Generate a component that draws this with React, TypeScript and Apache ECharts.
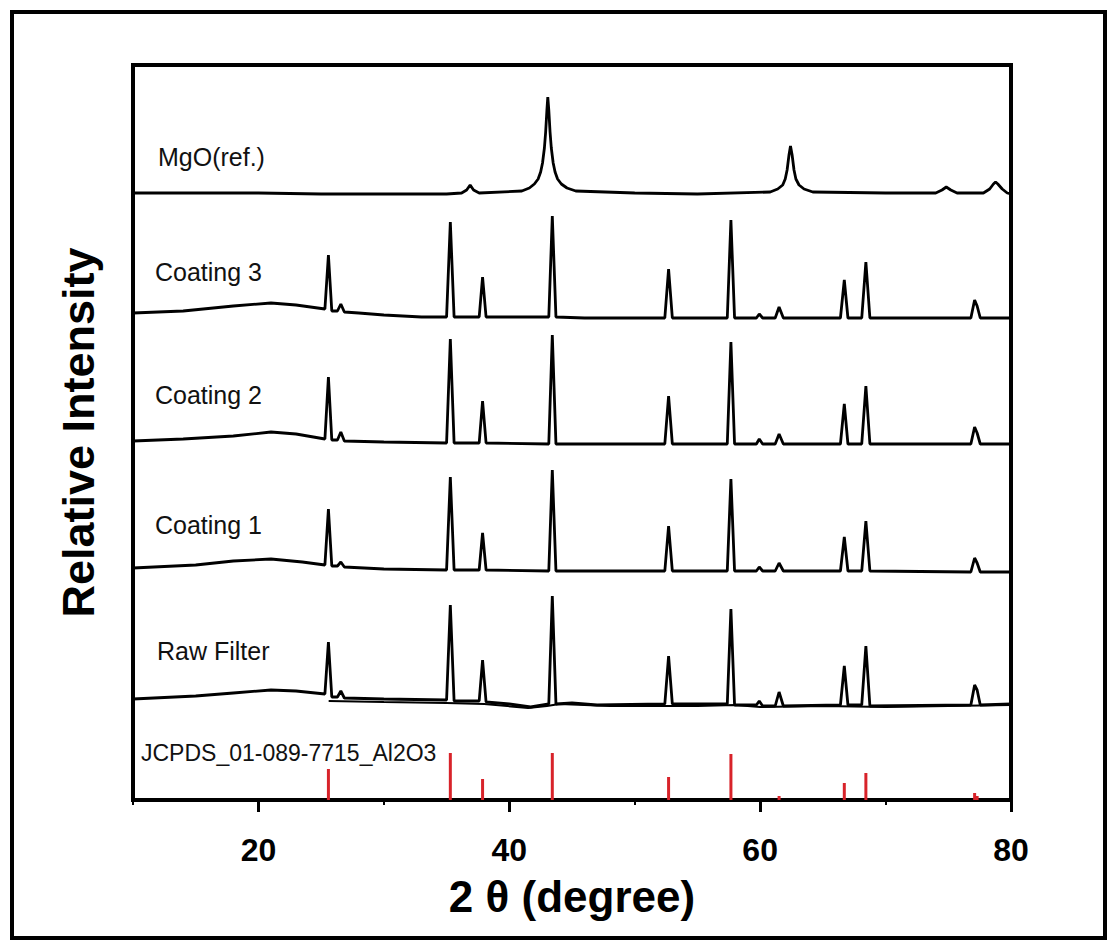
import React, { useEffect, useRef } from "react";
import * as echarts from "echarts";

// ---- Data (2θ in degrees, relative intensity in arbitrary stacked units) ----
const xMin = 10;
const xMax = 80;
const majorTicks = [20, 40, 60, 80];
const minorTicks = [10, 30, 50, 70];

const mgoRef: [number, number][] = [
  [10, 607], [15, 607], [20, 607], [25, 606], [30, 606], [35, 606], [36.2, 607], [36.6, 610], [36.88, 615],
  [37.15, 610], [37.6, 607], [41.0, 609], [41.6, 612], [42.0, 616], [42.3, 621], [42.5, 628], [42.65, 637],
  [42.8, 652], [42.9, 668], [43.0, 690], [43.07, 703], [43.15, 690], [43.25, 668], [43.35, 652], [43.5, 637],
  [43.65, 628], [43.85, 621], [44.15, 616], [44.6, 612], [45.3, 609], [50, 607], [55, 606], [60.8, 608],
  [61.4, 611], [61.8, 615], [62.0, 621], [62.15, 630], [62.3, 645], [62.42, 654], [62.55, 645], [62.7, 630],
  [62.85, 621], [63.1, 615], [63.5, 611], [64.2, 608], [70, 607], [74.0, 607], [74.5, 610], [74.84, 613],
  [75.2, 610], [75.7, 607], [77.8, 607], [78.3, 611], [78.6, 616], [78.77, 618], [78.95, 616], [79.3, 611],
  [79.7, 607], [80, 606],
];

const coating3: [number, number][] = [
  [10, 487], [14, 489], [18, 494], [21, 497], [23, 495], [25.3, 491], [25.58, 545], [25.85, 489], [26.3, 489],
  [26.57, 496], [26.85, 488], [28, 487], [30, 485], [33, 483], [35.0, 483], [35.3, 578], [35.6, 483], [37.6, 483],
  [37.87, 523], [38.15, 483], [43.15, 483], [43.43, 584], [43.72, 483], [46, 482], [52.4, 482], [52.7, 531],
  [53.0, 482], [57.38, 482], [57.67, 580], [57.96, 482], [59.7, 482], [59.93, 486], [60.2, 482], [61.2, 482],
  [61.51, 493], [61.85, 482], [66.4, 482], [66.71, 520], [67.0, 482], [68.1, 482], [68.43, 538], [68.75, 482],
  [76.8, 482], [77.1, 500], [77.3, 494], [77.55, 482], [80, 482],
];

const coating2: [number, number][] = [
  [10, 359], [14, 361], [18, 364], [21, 368], [23, 366], [25.3, 361], [25.58, 423], [25.85, 360], [26.3, 360],
  [26.57, 368], [26.85, 359], [30, 358], [35.0, 357], [35.3, 461], [35.6, 357], [37.6, 357], [37.87, 399],
  [38.15, 357], [43.15, 356], [43.43, 465], [43.72, 356], [52.4, 356], [52.7, 404], [53.0, 356], [57.38, 356],
  [57.67, 458], [57.96, 356], [59.7, 356], [59.93, 361], [60.2, 356], [61.2, 356], [61.51, 366], [61.85, 356],
  [66.4, 356], [66.71, 396], [67.0, 356], [68.1, 356], [68.43, 414], [68.75, 356], [76.8, 356], [77.1, 373],
  [77.3, 367], [77.55, 356], [80, 356],
];

const coating1: [number, number][] = [
  [10, 232], [15, 235], [18, 239], [21, 241], [23.5, 238], [25.3, 235], [25.58, 291], [25.85, 234], [26.3, 234],
  [26.57, 238], [26.85, 233], [30, 231], [35.0, 230], [35.3, 323], [35.6, 230], [37.6, 230], [37.87, 267],
  [38.15, 230], [43.15, 229], [43.43, 330], [43.72, 229], [52.4, 229], [52.7, 274], [53.0, 229], [57.38, 229],
  [57.67, 321], [57.96, 229], [59.7, 229], [59.93, 233], [60.2, 229], [61.2, 229], [61.51, 237], [61.85, 229],
  [66.4, 229], [66.71, 263], [67.0, 229], [68.1, 229], [68.43, 279], [68.75, 229], [76.8, 228], [77.1, 242],
  [77.3, 237], [77.55, 228], [80, 228],
];

const rawFilter: [number, number][] = [
  [10, 101], [15, 104], [18, 107], [21, 110], [23, 109], [25.3, 106], [25.58, 158], [25.85, 103], [26.3, 103],
  [26.57, 109], [26.85, 102], [30, 101], [35.0, 100], [35.3, 195], [35.6, 99], [37.6, 99], [37.87, 140],
  [38.15, 98], [40, 96], [41.7, 93], [43.15, 96], [43.43, 204], [43.72, 96], [45, 97], [47, 95], [52.4, 96],
  [52.7, 144], [53.0, 96], [57.38, 96], [57.67, 191], [57.96, 95], [59.7, 95], [59.93, 99], [60.2, 94],
  [61.2, 94], [61.51, 108], [61.85, 94], [66.4, 95], [66.71, 134], [67.0, 95], [68.1, 95], [68.43, 154],
  [68.75, 94], [76.8, 95], [77.1, 115], [77.3, 110], [77.55, 95], [80, 96],
];

const rawBackground: [number, number][] = [
  [25.6, 99], [30, 98], [35, 97], [38, 96], [41.5, 92], [43, 94], [44, 96], [48, 94], [55, 94], [58, 95],
  [60, 93], [65, 94], [70, 93], [75, 94], [80, 95],
];

const jcpdsSticks: [number, number][] = [
  [25.58, 31], [35.3, 47], [37.87, 21], [43.43, 47], [52.7, 23], [57.67, 46], [61.51, 4], [66.71, 17],
  [68.43, 27], [77.1, 7], [77.3, 4],
];

const traceLabels = ["MgO(ref.)", "Coating 3", "Coating 2", "Coating 1", "Raw Filter", "JCPDS_01-089-7715_Al2O3"];
const xTitle = "2 θ (degree)";
const yTitle = "Relative Intensity";

const FONT = "'Liberation Sans', Arial, Helvetica, sans-serif";

export default function App() {
  const ref = useRef<HTMLDivElement>(null);

  useEffect(() => {
    if (!ref.current) return;
    const chart = echarts.init(ref.current, null, { renderer: "svg" });

    const lineSeries = (name: string, data: [number, number][], extra: any = {}) => ({
      name,
      type: "line",
      data,
      showSymbol: false,
      symbol: "none",
      lineStyle: { color: "#000", width: 2.8 },
      z: 3,
      ...extra,
    });

    const labelPos: [number, number, number][] = [
      [158, 157, 25],
      [155, 272, 25],
      [155, 395, 25],
      [155, 525, 25],
      [157, 651, 25],
      [141, 753, 23],
    ];

    chart.setOption({
      animation: false,
      backgroundColor: "#fff",
      grid: {
        left: 133,
        right: 105,
        top: 65,
        bottom: 150,
        show: true,
        borderColor: "#000",
        borderWidth: 4,
        containLabel: false,
        outerBoundsMode: "none",
      },
      xAxis: [
        {
          type: "value",
          min: xMin,
          max: xMax,
          name: xTitle,
          nameLocation: "middle",
          nameGap: 74,
          nameTextStyle: { fontFamily: FONT, fontSize: 44, fontWeight: "bold", color: "#000" },
          axisLine: { show: true, lineStyle: { color: "#000", width: 4 } },
          axisTick: { show: true, customValues: majorTicks, length: 12, lineStyle: { color: "#000", width: 3 } },
          axisLabel: {
            show: true,
            customValues: majorTicks,
            margin: 34,
            fontFamily: FONT,
            fontSize: 32,
            fontWeight: "bold",
            color: "#000",
          },
          splitLine: { show: false },
        },
        {
          type: "value",
          min: xMin,
          max: xMax,
          position: "bottom",
          axisLine: { show: false },
          axisTick: { show: true, customValues: minorTicks, length: 5, lineStyle: { color: "#000", width: 2 } },
          axisLabel: { show: false },
          splitLine: { show: false },
        },
      ],
      yAxis: {
        type: "value",
        min: 0,
        max: 735,
        name: yTitle,
        nameLocation: "middle",
        nameGap: 32,
        nameRotate: 90,
        nameTextStyle: { fontFamily: FONT, fontSize: 45, fontWeight: "bold", color: "#000" },
        axisLine: { show: true, lineStyle: { color: "#000", width: 4 } },
        axisTick: { show: false },
        axisLabel: { show: false },
        splitLine: { show: false },
      },
      series: [
        lineSeries(traceLabels[0], mgoRef),
        lineSeries(traceLabels[1], coating3),
        lineSeries(traceLabels[2], coating2),
        lineSeries(traceLabels[3], coating1),
        lineSeries(traceLabels[4], rawFilter),
        lineSeries("Raw Filter background", rawBackground, { lineStyle: { color: "#000", width: 2 } }),
        {
          name: traceLabels[5],
          type: "bar",
          data: jcpdsSticks,
          barWidth: 3,
          itemStyle: { color: "#d8232a" },
          z: 2,
        },
      ],
      graphic: [
        {
          type: "rect",
          shape: { x: 12, y: 12, width: 1093, height: 926 },
          style: { fill: "none", stroke: "#000", lineWidth: 4 },
          silent: true,
        },
        ...traceLabels.map((t, i) => ({
          type: "text",
          x: labelPos[i][0],
          y: labelPos[i][1],
          style: {
            text: t,
            fontFamily: FONT,
            fontSize: labelPos[i][2],
            fill: "#111",
            align: "left",
            verticalAlign: "middle",
          },
          silent: true,
        })),
      ],
    });

    return () => chart.dispose();
  }, []);

  return (
    <div
      ref={ref}
      style={{ position: "absolute", left: 0, top: 0, width: 1116, height: 950, background: "#fff" }}
    />
  );
}
